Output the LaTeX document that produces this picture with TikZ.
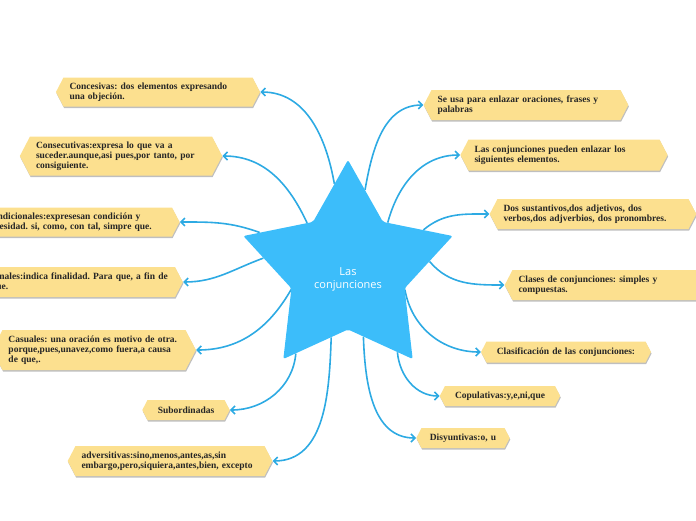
\documentclass[tikz,border=0pt]{standalone}
\usepackage{fontspec}
\setmainfont{Liberation Serif}
\newfontfamily\hubfont{Open Sans}
\usepackage{tikz}
\usetikzlibrary{positioning, arrows.meta, shapes.geometric, shapes.symbols, shadows, backgrounds}
\definecolor{hubblue}{HTML}{3CBDFA}
\definecolor{linkblue}{HTML}{2DAAE3}
\definecolor{tagyellow}{HTML}{FCE08F}
\frenchspacing

\begin{document}
\begin{tikzpicture}[x=1pt, y=1pt,
    tag/.style={shape=signal, signal to=west and east, signal pointer angle=125, fill=tagyellow, inner xsep=6pt, inner ysep=2pt, align=left, text=black!85, font=\fontsize{9.5}{10}\selectfont\bfseries, drop shadow={shadow xshift=0.6pt, shadow yshift=-1.6pt, fill=black, opacity=0.25}},
    link/.style={draw=linkblue, line width=1.6pt, -{Straight Barb[length=4pt, width=8pt]}},
    hub/.style={shape=star, star points=5, star point ratio=1.85, minimum size=220pt, inner sep=0pt, fill=hubblue, rounded corners=2pt},
    hubtext/.style={align=center, text=white, font=\hubfont\fontsize{11}{13}\selectfont}]
  \useasboundingbox (0,0) rectangle (696,-520);

  \node[hub] (star) at (348,-270) {};
  \node[hubtext] (title) at (348,-279) {Las\\conjunciones};

  \node[tag, text width=177pt, minimum height=29pt] (conces) at (158,-92) {Concesivas: dos elementos expresando\\una objeción.};
  \node[tag, text width=170pt, minimum height=39pt] (consec) at (121,-156) {Consecutivas:expresa lo que va a\\suceder.aunque,asi pues,por tanto, por\\consiguiente.};
  \node[tag, text width=180pt, minimum height=29pt] (condic) at (76,-222) {Condicionales:expresesan condición y\\necesidad. si, como, con tal, simpre que.};
  \node[tag, text width=178pt, minimum height=30pt] (finales) at (80,-282) {Finales:indica finalidad. Para que, a fin de\\que.};
  \node[tag, text width=171pt, minimum height=40pt] (casual) at (94,-350) {Casuales: una oración es motivo de otra.\\porque,pues,unavez,como fuera,a causa\\de que,.};
  \node[tag, text width=65pt, minimum height=20pt, align=center] (subord) at (186,-410) {Subordinadas};
  \node[tag, text width=177pt, minimum height=30pt] (advers) at (170,-461) {adversitivas:sino,menos,antes,as,sin\\embargo,pero,siquiera,antes,bien, excepto};

  \node[tag, text width=177pt, minimum height=30pt] (seusa) at (526,-105) {Se usa para enlazar oraciones, frases y\\palabras};
  \node[tag, text width=179pt, minimum height=31pt] (enlazar) at (564,-155) {Las conjunciones pueden enlazar los\\siguientes elementos.};
  \node[tag, text width=179pt, minimum height=30pt] (dossus) at (593,-214) {Dos sustantivos,dos adjetivos, dos\\verbos,dos adjverbios, dos pronombres.};
  \node[tag, text width=177pt, minimum height=30pt] (clases) at (607,-285) {Clases de conjunciones: simples y\\compuestas.};
  \node[tag, text width=147pt, minimum height=21pt, align=center] (clasif) at (566,-352) {Clasificación de las conjunciones:};
  \node[tag, text width=98pt, minimum height=20pt, align=center] (copul) at (500,-396) {Copulativas:y,e,ni,que};
  \node[tag, text width=71pt, minimum height=20pt, align=center] (disyun) at (463,-438) {Disyuntivas:o, u};

  \begin{scope}[on background layer]
    \draw[link] (star.99) to[out=100, in=0] (conces.east);
    \draw[link] (star.131) to[out=115, in=0] (consec.east);
    \draw[link] (star.157) to[out=160, in=0] (condic.east);
    \draw[link] (star.172) to[out=200, in=0] (finales.east);
    \draw[link] (star.199) to[out=240, in=0] (casual.east);
    \draw[link] (star.238) to[out=265, in=0] (subord.east);
    \draw[link] (star.256) to[out=268, in=0] (advers.east);
    \draw[link] (star.78) to[out=80, in=180] (seusa.west);
    \draw[link] (star.50) to[out=75, in=180] (enlazar.west);
    \draw[link] (star.28) to[out=40, in=180] (dossus.west);
    \draw[link] (star.6) to[out=-50, in=180] (clases.west);
    \draw[link] (star.-19) to[out=-80, in=180] (clasif.west);
    \draw[link] (star.-59) to[out=-85, in=180] (copul.west);
    \draw[link] (star.-77) to[out=-88, in=180] (disyun.west);
  \end{scope}
\end{tikzpicture}
\end{document}
